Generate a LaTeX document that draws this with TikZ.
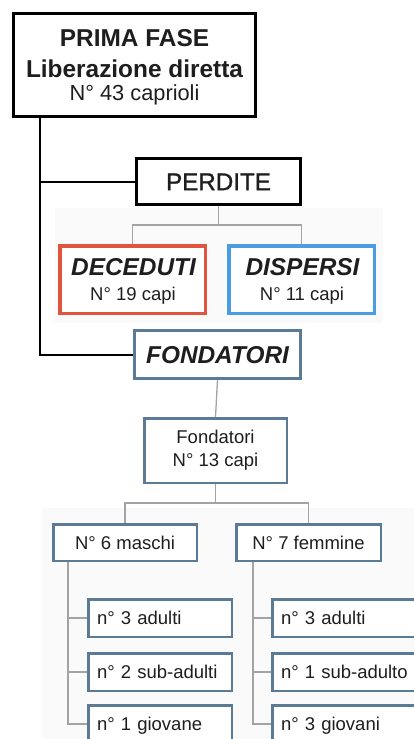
\documentclass[tikz,border=0pt]{standalone}
\usepackage{fontspec}
\setmainfont{Liberation Sans}
\newfontfamily\perditefont[FakeBold=1.2]{Liberation Sans}
\definecolor{steel}{HTML}{5B7A96}
\definecolor{redbox}{HTML}{E0553D}
\definecolor{bluebox}{HTML}{4A9DE0}
\definecolor{conn}{HTML}{A3A3A3}
\definecolor{ink}{HTML}{1E1E1E}
\definecolor{paper}{HTML}{FAFAFA}
\begin{document}
\begin{tikzpicture}[x=1pt,y=-1pt,
  blackbox/.style={draw=black, line width=3pt, inner sep=0pt, fill=white},
  redbx/.style={draw=redbox, line width=3.5pt, inner sep=0pt, fill=white, minimum width=145.5pt, minimum height=67.5pt},
  bluebx/.style={draw=bluebox, line width=3.5pt, inner sep=0pt, fill=white, minimum width=145.5pt, minimum height=67.5pt},
  steelbox/.style={draw=steel, line width=2.5pt, inner sep=0pt, fill=white},
  bigbold/.style={font=\fontsize{24.4}{28}\selectfont\bfseries, text=ink},
  bigit/.style={font=\fontsize{24.4}{28}\selectfont\bfseries\itshape, text=ink},
  regtext/.style={font=\fontsize{18.5}{23}\selectfont, text=ink},
  subbox/.style={steelbox, regtext, minimum height=37.5pt, text height=13.2pt, text depth=0pt, inner xsep=8.75pt, align=left, anchor=center},
  blackline/.style={draw=black, line width=2pt},
  grayline/.style={draw=conn, line width=1.3pt}
]
\clip (0,0) rectangle (414,739);
\fill[white] (0,0) rectangle (414,739);
% faint pasted backgrounds
\fill[paper] (55,208) rectangle (383,323);
\fill[paper] (42,508) rectangle (414,739);

% spine coordinates
\coordinate (sx) at (40,0);
\coordinate (pj) at (218.5,225);
\coordinate (fj) at (215.5,503);
\coordinate (mx) at (68,0);
\coordinate (fx) at (253,0);

% top box
\node[blackbox, minimum width=242pt, minimum height=103pt] (top) at (134.5,65) {};
\node[bigbold, anchor=base] (t1) at (134.5,46.7) {PRIMA FASE};
\node[bigbold, anchor=base] (t2) at (134.5,77.3) {Liberazione diretta};
\node[font=\fontsize{21.8}{26}\selectfont, text=ink, anchor=base] (t3) at (134.5,100.6) {N° 43 caprioli};

% perdite
\node[blackbox, minimum width=164pt, minimum height=46pt, font=\perditefont\fontsize{24.2}{28}\selectfont, text=ink, text height=17.3pt, text depth=0pt] (perdite) at (218.5,181.5) {PERDITE};

% deceduti / dispersi
\node[redbx] (deceduti) at (132.5,279.5) {};
\node[bigit, anchor=base] (d1) at (133.5,275) {DECEDUTI};
\node[regtext, anchor=base] (d2) at (133,300.5) {N° 19 capi};
\node[bluebx] (dispersi) at (301.5,279.5) {};
\node[bigit, anchor=base] (s1) at (302.5,275) {DISPERSI};
\node[regtext, anchor=base] (s2) at (302,300.5) {N° 11 capi};

% fondatori
\node[draw=steel, line width=3pt, inner sep=0pt, fill=white, minimum width=166pt, minimum height=48pt, bigit, text height=17.5pt, text depth=0pt] (fond) at (217.5,354.5) {FONDATORI};

\node[steelbox, regtext, align=center, minimum width=142.5pt, minimum height=64.5pt] (fond2) at (215.5,450.5) {Fondatori\\N° 13 capi};

% sexes
\node[steelbox, regtext, minimum width=143.5pt, minimum height=36.5pt, text height=13.2pt, text depth=0pt] (maschi) at (125,542.5) {N° 6 maschi};
\node[steelbox, regtext, minimum width=144.5pt, minimum height=36.5pt, text height=13.2pt, text depth=0pt] (femmine) at (308.5,542.5) {N° 7 femmine};

% sub boxes
\node[subbox, text width=126pt] (m1) at (160,618) {n° 3 adulti};
\node[subbox, text width=126pt] (m2) at (160,672) {n° 2 sub-adulti};
\node[subbox, text width=126pt] (m3) at (160,724) {n° 1 giovane};
\node[subbox, text width=146pt] (f1) at (354,618) {n° 3 adulti};
\node[subbox, text width=146pt] (f2) at (354,672) {n° 1 sub-adulto};
\node[subbox, text width=146pt] (f3) at (354,724) {n° 3 giovani};

% connectors
\draw[blackline] (top.south -| sx) |- (perdite.west);
\draw[blackline] (top.south -| sx) |- (fond.west);
\draw[grayline] (perdite.south) -- (pj) -| (deceduti.north);
\draw[grayline] (pj) -| (dispersi.north);
\draw[grayline] (fond.south) -- (fond2.north);
\draw[grayline] (fond2.south) -- (fj) -| (maschi.north);
\draw[grayline] (fj) -| (femmine.north);
\draw[grayline] (maschi.south -| mx) |- (m1.west);
\draw[grayline] (maschi.south -| mx) |- (m2.west);
\draw[grayline] (maschi.south -| mx) |- (m3.west);
\draw[grayline] (femmine.south -| fx) |- (f1.west);
\draw[grayline] (femmine.south -| fx) |- (f2.west);
\draw[grayline] (femmine.south -| fx) |- (f3.west);
\end{tikzpicture}
\end{document}
